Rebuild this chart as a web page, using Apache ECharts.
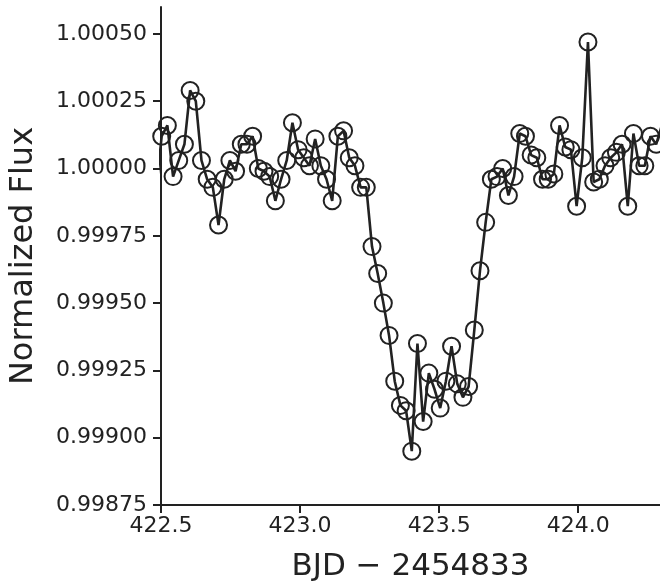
<!DOCTYPE html>
<html>
<head>
<meta charset="utf-8">
<script src="https://cdn.jsdelivr.net/npm/echarts@6/dist/echarts.min.js"></script>
<style>
  html, body { margin: 0; padding: 0; background: #fff; }
  #chart { width: 660px; height: 587px; }
</style>
</head>
<body>
<div id="chart"></div>
<script>
// BJD - 2454833 (Kepler long cadence samples)
const times = [
  422.4821, 422.5025, 422.5229, 422.5434, 422.5638, 422.5842, 422.6047, 422.6251, 422.6455, 422.6660,
  422.6864, 422.7068, 422.7273, 422.7477, 422.7681, 422.7886, 422.8090, 422.8294, 422.8499, 422.8703,
  422.8907, 422.9112, 422.9316, 422.9520, 422.9725, 422.9929, 423.0133, 423.0338, 423.0542, 423.0746,
  423.0951, 423.1155, 423.1359, 423.1564, 423.1768, 423.1973, 423.2177, 423.2381, 423.2586, 423.2790,
  423.2994, 423.3199, 423.3403, 423.3607, 423.3812, 423.4016, 423.4220, 423.4425, 423.4629, 423.4833,
  423.5038, 423.5242, 423.5446, 423.5651, 423.5855, 423.6059, 423.6264, 423.6468, 423.6672, 423.6877,
  423.7081, 423.7285, 423.7490, 423.7694, 423.7898, 423.8103, 423.8307, 423.8511, 423.8716, 423.8920,
  423.9124, 423.9329, 423.9533, 423.9737, 423.9942, 424.0146, 424.0350, 424.0555, 424.0759, 424.0963,
  424.1168, 424.1372, 424.1576, 424.1781, 424.1985, 424.2189, 424.2394, 424.2598, 424.2802, 424.3007
];
// Normalized flux
const flux = [
  0.99992, 1.00012, 1.00016, 0.99997, 1.00003, 1.00009, 1.00029, 1.00025, 1.00003, 0.99996,
  0.99993, 0.99979, 0.99996, 1.00003, 0.99999, 1.00009, 1.00009, 1.00012, 1.00000, 0.99999,
  0.99997, 0.99988, 0.99996, 1.00003, 1.00017, 1.00007, 1.00004, 1.00001, 1.00011, 1.00001,
  0.99996, 0.99988, 1.00012, 1.00014, 1.00004, 1.00001, 0.99993, 0.99993, 0.99971, 0.99961,
  0.99950, 0.99938, 0.99921, 0.99912, 0.99910, 0.99895, 0.99935, 0.99906, 0.99924, 0.99918,
  0.99911, 0.99921, 0.99934, 0.99920, 0.99915, 0.99919, 0.99940, 0.99962, 0.99980, 0.99996,
  0.99997, 1.00000, 0.99990, 0.99997, 1.00013, 1.00012, 1.00005, 1.00004, 0.99996, 0.99996,
  0.99998, 1.00016, 1.00008, 1.00007, 0.99986, 1.00004, 1.00047, 0.99995, 0.99996, 1.00001,
  1.00004, 1.00006, 1.00009, 0.99986, 1.00013, 1.00001, 1.00001, 1.00012, 1.00009, 1.00016
];
const xTicks = [422.5, 423.0, 423.5, 424.0];
const yTicks = [0.99875, 0.99900, 0.99925, 0.99950, 0.99975, 1.00000, 1.00025, 1.00050];

const ink = '#222222';
const font = 'DejaVu Sans';

const chart = echarts.init(document.getElementById('chart'), null, { renderer: 'canvas' });
chart.setOption({
  animation: false,
  backgroundColor: '#ffffff',
  grid: { left: 159, right: 0, top: 7, bottom: 79, containLabel: false },
  xAxis: {
    type: 'value',
    min: 422.5,
    max: 424.294,
    interval: 0.5,
    name: 'BJD − 2454833',
    nameLocation: 'middle',
    nameGap: 46,
    nameTextStyle: { fontFamily: font, fontSize: 31, color: ink },
    axisLine: { show: true, onZero: false, lineStyle: { color: ink, width: 2 } },
    axisTick: { show: true, inside: false, length: 8, lineStyle: { color: ink, width: 2 }, customValues: xTicks },
    axisLabel: {
      show: true, margin: 10, fontFamily: font, fontSize: 22, color: ink,
      customValues: xTicks,
      formatter: v => Number(v).toFixed(1)
    },
    splitLine: { show: false }
  },
  yAxis: {
    type: 'value',
    min: 0.99875,
    max: 1.0006,
    interval: 0.00025,
    name: 'Normalized Flux',
    nameLocation: 'middle',
    nameGap: 121,
    nameRotate: 90,
    nameTextStyle: { fontFamily: font, fontSize: 32, color: ink },
    axisLine: { show: true, onZero: false, lineStyle: { color: ink, width: 2 } },
    axisTick: { show: true, inside: false, length: 8, lineStyle: { color: ink, width: 2 }, customValues: yTicks },
    axisLabel: {
      show: true, margin: 14, fontFamily: font, fontSize: 22, color: ink,
      customValues: yTicks,
      formatter: v => Number(v).toFixed(5)
    },
    splitLine: { show: false }
  },
  series: [{
    type: 'line',
    data: times.map((t, i) => [t, flux[i]]),
    clip: true,
    showAllSymbol: true,
    symbol: 'circle',
    symbolSize: 17,
    lineStyle: { color: ink, width: 2.6 },
    itemStyle: { color: 'rgba(0,0,0,0)', borderColor: ink, borderWidth: 2 },
    emphasis: { disabled: true },
    z: 2
  }]
});
</script>
</body>
</html>
